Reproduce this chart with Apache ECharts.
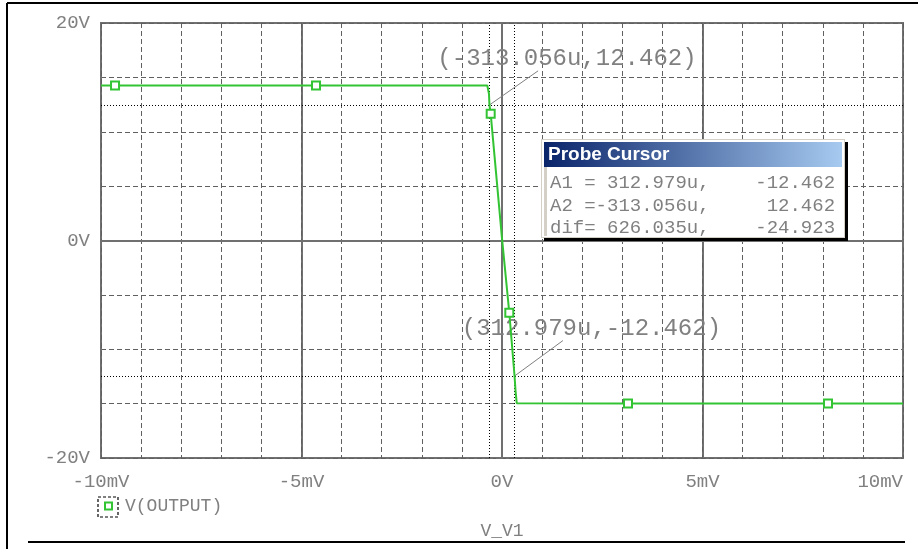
<!DOCTYPE html>
<html>
<head>
<meta charset="utf-8">
<script src="https://cdn.jsdelivr.net/npm/echarts@6/dist/echarts.min.js"></script>
<style>
  html, body { margin: 0; padding: 0; background: #ffffff; }
  #chart { width: 918px; height: 549px; }
</style>
</head>
<body>
<div id="chart"></div>
<script>
// DC sweep of V_V1 (mV) against V(OUTPUT) (V)
const sweepMilliVolts = [-10, -9.65, -4.638, -0.367, -0.325, -0.313056, -0.282, 0, 0.182, 0.312979, 0.337, 0.367, 0.40, 3.142, 8.13, 10];
const outputVolts     = [14.25, 14.25, 14.25, 14.25, 13.5, 12.462, 11.65, 0.2, -6.65, -12.462, -13.8, -14.96, -14.98, -14.98, -14.98, -14.98];
// indices of the sweep points drawn with a trace marker
const markerPoints = [1, 2, 6, 8, 13, 14];

// probe cursor readings: [x in mV, y in V]
const cursorA1 = [0.312979, -12.462];
const cursorA2 = [-0.313056, 12.462];
const cursorA1Label = '(312.979u,-12.462)';
const cursorA2Label = '(-313.056u,12.462)';
const probeRows = [
  'A1 = 312.979u,    -12.462',
  'A2 =-313.056u,     12.462',
  'dif= 626.035u,    -24.923'
];

const xTickLabels = { '-10': '-10mV', '-5': '-5mV', '0': '0V', '5': '5mV', '10': '10mV' };
const yTickLabels = { '-20': '-20V', '0': '0V', '20': '20V' };

const MONO = '"Liberation Mono", "DejaVu Sans Mono", monospace';
const GREY = '#808080';
const TRACE = '#33c433';

const chart = echarts.init(document.getElementById('chart'), null, { renderer: 'canvas' });

const traceData = sweepMilliVolts.map((x, i) => {
  const item = { value: [x, outputVolts[i]] };
  if (markerPoints.includes(i)) {
    item.symbol = 'rect';
    item.symbolSize = 8;
  }
  return item;
});

const dashedGrid = { show: true, lineStyle: { color: '#606060', width: 1, type: [5, 3] } };
const solidGrid = { show: true, lineStyle: { color: '#707070', width: 2 } };

const BOX_Z = 100;

const option = {
  animation: false,
  backgroundColor: '#ffffff',
  grid: {
    left: 101, right: 15, top: 23, bottom: 91,
    outerBoundsMode: 'none', containLabel: false,
    show: true, borderColor: '#707070', borderWidth: 2, backgroundColor: 'transparent'
  },
  legend: {
    left: 104, top: 497, padding: 0,
    icon: 'rect', itemWidth: 7, itemHeight: 7, itemGap: 8,
    textStyle: { fontFamily: MONO, fontSize: 18, color: GREY, padding: [0, 0, 0, 8] },
    data: [{ name: 'V(OUTPUT)', itemStyle: { color: '#ffffff', borderColor: TRACE, borderWidth: 2 } }]
  },
  xAxis: [
    {
      type: 'value', min: -10, max: 10, interval: 5,
      name: 'V_V1', nameLocation: 'middle', nameGap: 64,
      nameTextStyle: { fontFamily: MONO, fontSize: 18, color: GREY },
      axisLine: { show: true, lineStyle: { color: '#707070', width: 2 } },
      axisTick: { show: true, length: 7, lineStyle: { color: '#707070', width: 2 } },
      axisLabel: {
        margin: 14, fontFamily: MONO, fontSize: 19, color: GREY,
        formatter: v => xTickLabels[String(v)] || '',
        alignMaxLabel: 'right'
      },
      splitLine: solidGrid
    },
    {
      type: 'value', min: -10, max: 10, interval: 1, position: 'bottom',
      axisLine: { show: false }, axisTick: { show: false }, axisLabel: { show: false },
      splitLine: dashedGrid
    }
  ],
  yAxis: [
    {
      type: 'value', min: -20, max: 20, interval: 20,
      axisLine: { show: true, lineStyle: { color: '#707070', width: 2 } },
      axisTick: { show: true, length: 6, lineStyle: { color: '#707070', width: 2 } },
      axisLabel: {
        margin: 11, fontFamily: MONO, fontSize: 19, color: GREY,
        formatter: v => yTickLabels[String(v)] || ''
      },
      splitLine: solidGrid
    },
    {
      type: 'value', min: -20, max: 20, interval: 5, position: 'left',
      axisLine: { show: false }, axisTick: { show: false }, axisLabel: { show: false },
      splitLine: dashedGrid
    }
  ],
  series: [
    {
      name: 'V(OUTPUT)',
      type: 'line',
      xAxisIndex: 0, yAxisIndex: 0,
      data: traceData,
      symbol: 'none',
      showAllSymbol: true,
      lineStyle: { color: TRACE, width: 2 },
      itemStyle: { color: '#ffffff', borderColor: TRACE, borderWidth: 2 },
      z: 5,
      markLine: {
        silent: true, symbol: 'none', animation: false,
        label: { show: false },
        lineStyle: { color: '#000000', width: 1, type: [1, 2] },
        data: [
          { xAxis: cursorA1[0] }, { xAxis: cursorA2[0] },
          { yAxis: cursorA1[1] }, { yAxis: cursorA2[1] },
          [
            { coord: cursorA2, lineStyle: { color: GREY, type: 'solid', width: 1 } },
            { coord: [0.9, 15.6] }
          ],
          [
            { coord: cursorA1, lineStyle: { color: GREY, type: 'solid', width: 1 } },
            { coord: [1.52, -9.2] }
          ]
        ]
      },
      markPoint: {
        silent: true, symbol: 'circle', symbolSize: 0, animation: false,
        label: {
          show: true, position: 'inside', fontFamily: MONO, fontSize: 24, color: GREY,
          formatter: p => p.name
        },
        data: [
          { name: cursorA2Label, coord: [1.62, 16.74] },
          { name: cursorA1Label, coord: [2.23, -8.09] }
        ]
      }
    }
  ],
  graphic: [
    // window frame
    { type: 'line', shape: { x1: 7, y1: 3, x2: 918, y2: 3 }, style: { stroke: '#000', lineWidth: 2 } },
    { type: 'line', shape: { x1: 7, y1: 3, x2: 7, y2: 549 }, style: { stroke: '#000', lineWidth: 2 } },
    { type: 'line', shape: { x1: 28, y1: 542, x2: 905, y2: 542 }, style: { stroke: '#000', lineWidth: 2 } },
    // focus box around legend swatch
    { type: 'rect', z: BOX_Z, shape: { x: 98, y: 497, width: 20, height: 20 },
      style: { fill: 'none', stroke: '#000', lineWidth: 1.2, lineDash: [3, 2] } },
    // probe cursor window
    { type: 'rect', z: BOX_Z, shape: { x: 544, y: 142, width: 304, height: 99 }, style: { fill: '#000' } },
    { type: 'rect', z: BOX_Z + 1, shape: { x: 541, y: 139, width: 304, height: 99 }, style: { fill: '#d4d0c8' } },
    { type: 'rect', z: BOX_Z + 2, shape: { x: 542, y: 140, width: 302, height: 97 }, style: { fill: '#ffffff' } },
    { type: 'rect', z: BOX_Z + 3, shape: { x: 544, y: 142, width: 298, height: 25 },
      style: { fill: new echarts.graphic.LinearGradient(0, 0, 1, 0, [
        { offset: 0, color: '#0a246a' }, { offset: 1, color: '#a6caf0' }
      ]) } },
    { type: 'rect', z: BOX_Z + 3, shape: { x: 544, y: 167, width: 3, height: 69 }, style: { fill: '#d4d0c8' } },
    { type: 'text', z: BOX_Z + 4, style: { x: 548, y: 155, text: 'Probe Cursor', fill: '#ffffff',
      font: 'bold 19px "Liberation Sans", Arial, sans-serif', verticalAlign: 'middle' } },
    { type: 'text', z: BOX_Z + 4, style: { x: 550, y: 183, text: probeRows[0], fill: GREY,
      font: '19px ' + MONO, verticalAlign: 'middle' } },
    { type: 'text', z: BOX_Z + 4, style: { x: 550, y: 206, text: probeRows[1], fill: GREY,
      font: '19px ' + MONO, verticalAlign: 'middle' } },
    { type: 'text', z: BOX_Z + 4, style: { x: 550, y: 228, text: probeRows[2], fill: GREY,
      font: '19px ' + MONO, verticalAlign: 'middle' } }
  ]
};

chart.setOption(option);
</script>
</body>
</html>
